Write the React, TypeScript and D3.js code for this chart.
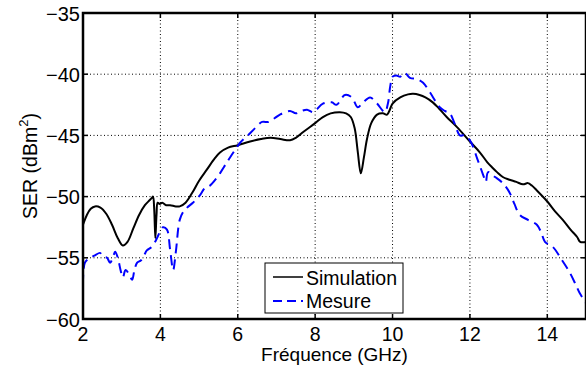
import React from "react";
import * as d3 from "d3";

const xTicks = [2, 4, 6, 8, 10, 12, 14];
const yTicks = [-35, -40, -45, -50, -55, -60];
const seriesNames = ["Simulation", "Mesure"];

const simulation: [number, number][] = [
  [2.0, -52.3], [2.1, -51.5], [2.2, -51.0], [2.31, -50.8], [2.45, -50.9], [2.6, -51.4], [2.75, -52.3],
  [2.9, -53.4], [3.03, -54.0], [3.15, -53.7], [3.3, -52.6], [3.45, -51.5], [3.6, -50.7], [3.72, -50.3],
  [3.78, -50.1], [3.81, -50.0], [3.84, -51.0], [3.87, -53.4], [3.9, -51.5], [3.93, -50.5], [3.98, -50.6],
  [4.05, -50.5], [4.15, -50.7], [4.25, -50.7], [4.4, -50.8], [4.5, -50.8], [4.65, -50.5], [4.84, -49.6],
  [5.0, -48.7], [5.2, -47.8], [5.4, -46.9], [5.54, -46.4], [5.75, -46.0], [6.0, -45.8], [6.32, -45.5],
  [6.6, -45.3], [6.85, -45.2], [7.1, -45.3], [7.35, -45.4], [7.5, -45.2], [7.7, -44.7], [8.0, -44.0],
  [8.2, -43.5], [8.4, -43.2], [8.64, -43.1], [8.8, -43.2], [8.92, -43.5], [9.02, -44.4], [9.1, -46.3],
  [9.18, -48.1], [9.26, -46.8], [9.34, -45.3], [9.45, -44.0], [9.6, -43.3], [9.75, -43.2], [9.86, -43.3],
  [9.93, -42.9], [10.0, -42.4], [10.2, -41.9], [10.4, -41.65], [10.53, -41.6], [10.7, -41.7], [10.85, -41.9],
  [11.04, -42.3], [11.2, -42.8], [11.4, -43.5], [11.66, -44.3], [12.0, -45.5], [12.26, -46.4], [12.45, -47.2],
  [12.57, -47.6], [12.7, -48.0], [12.85, -48.4], [13.0, -48.6], [13.2, -48.8], [13.37, -49.0], [13.5, -48.9],
  [13.6, -49.1], [13.73, -49.5], [14.0, -50.4], [14.2, -51.2], [14.4, -51.9], [14.6, -52.7], [14.77, -53.3],
  [14.85, -53.7], [15.0, -53.7],
];

const mesure: [number, number][] = [
  [2.0, -57.2], [2.05, -55.4], [2.18, -55.0], [2.31, -54.8], [2.44, -54.6], [2.52, -54.9], [2.62, -55.0],
  [2.7, -55.4], [2.78, -54.9], [2.83, -54.5], [2.9, -55.0], [2.97, -56.0], [3.03, -56.6], [3.1, -56.0],
  [3.2, -56.4], [3.27, -56.8], [3.33, -56.0], [3.4, -55.4], [3.5, -55.2], [3.58, -54.8], [3.65, -54.4],
  [3.78, -54.1], [3.88, -53.6], [3.94, -53.2], [4.0, -52.8], [4.07, -52.5], [4.17, -52.7], [4.25, -54.3],
  [4.33, -56.0], [4.4, -54.5], [4.5, -51.9], [4.6, -51.2], [4.69, -50.9], [4.84, -50.5], [5.02, -49.9],
  [5.15, -49.3], [5.28, -49.1], [5.4, -48.7], [5.54, -48.1], [5.7, -47.3], [5.8, -46.8], [5.95, -46.1],
  [6.06, -45.6], [6.26, -45.0], [6.45, -44.4], [6.63, -43.9], [6.8, -43.9], [6.95, -43.6], [7.09, -43.3],
  [7.35, -43.0], [7.5, -43.2], [7.65, -43.0], [7.79, -42.9], [7.95, -43.1], [8.2, -42.4], [8.43, -42.3],
  [8.55, -42.5], [8.77, -41.7], [8.95, -41.9], [9.1, -42.7], [9.24, -42.3], [9.42, -41.9], [9.6, -42.4],
  [9.8, -43.1], [9.88, -42.4], [9.94, -41.0], [10.0, -40.2], [10.1, -40.1], [10.2, -40.2], [10.32, -39.9],
  [10.45, -40.3], [10.63, -40.4], [10.79, -40.7], [10.97, -41.5], [11.22, -42.7], [11.35, -43.0],
  [11.48, -43.2], [11.6, -44.0], [11.74, -45.0], [11.85, -45.0], [12.0, -45.4], [12.2, -47.0],
  [12.35, -48.3], [12.41, -48.8], [12.47, -48.0], [12.65, -48.4], [12.85, -48.9], [13.03, -49.7],
  [13.15, -50.6], [13.29, -51.5], [13.5, -51.9], [13.73, -52.3], [13.85, -53.0], [13.94, -53.7],
  [14.14, -54.1], [14.38, -55.2], [14.58, -56.2], [14.75, -57.3], [14.84, -57.9], [15.0, -58.7],
];

const W = 586;
const H = 365;
const L = 83, R = 586, T = 13, B = 319;
const FONT = "'Liberation Sans', Arial, Helvetica, sans-serif";

export default function App() {
  const x = d3.scaleLinear().domain([2, 15]).range([L, R]);
  const y = d3.scaleLinear().domain([-60, -35]).range([B, T]);
  const line = d3
    .line<[number, number]>()
    .x((d) => x(d[0]))
    .y((d) => y(d[1]))
    .curve(d3.curveCatmullRom.alpha(0.5));
  const tick = 5;
  return (
    <div style={{ position: "absolute", left: 0, top: 0 }}>
      <svg width={W} height={H} style={{ display: "block", background: "#fff" }}>
        <defs>
          <clipPath id="plotclip">
            <rect x={L} y={T} width={R - L} height={B - T} />
          </clipPath>
        </defs>
        <rect x={0} y={0} width={W} height={H} fill="#fff" />
        {xTicks.map((t) => (
          <line key={"gx" + t} x1={x(t)} x2={x(t)} y1={T} y2={B} stroke="#000" strokeWidth={1} strokeDasharray="1,2.5" />
        ))}
        {yTicks.map((t) => (
          <line key={"gy" + t} x1={L} x2={R} y1={y(t)} y2={y(t)} stroke="#000" strokeWidth={1} strokeDasharray="1,2.5" />
        ))}
        {xTicks.map((t) => (
          <g key={"tx" + t}>
            <line x1={x(t)} x2={x(t)} y1={B} y2={B - tick} stroke="#000" strokeWidth={1.5} />
            <line x1={x(t)} x2={x(t)} y1={T} y2={T + tick} stroke="#000" strokeWidth={1.5} />
            <text x={x(t)} y={340.5} textAnchor="middle" fontFamily={FONT} fontSize={19.5} fill="#000">
              {t}
            </text>
          </g>
        ))}
        {yTicks.map((t) => (
          <g key={"ty" + t}>
            <line x1={L} x2={L + tick} y1={y(t)} y2={y(t)} stroke="#000" strokeWidth={1.5} />
            <line x1={R} x2={R - tick} y1={y(t)} y2={y(t)} stroke="#000" strokeWidth={1.5} />
            <text x={80} y={y(t) + 7.5} textAnchor="end" fontFamily={FONT} fontSize={20} fill="#000">
              {"\u2212" + Math.abs(t)}
            </text>
          </g>
        ))}
        <g clipPath="url(#plotclip)">
          <path d={line(simulation) || ""} fill="none" stroke="#000" strokeWidth={2} strokeLinejoin="round" />
          <path d={line(mesure) || ""} fill="none" stroke="#0000ff" strokeWidth={2} strokeDasharray="10,6" />
        </g>
        <rect x={L} y={T} width={R - L} height={B - T} fill="none" stroke="#000" strokeWidth={2.5} />
        <rect x={265} y={263} width={138} height={50} fill="#fff" stroke="#000" strokeWidth={1} />
        <line x1={273} x2={303} y1={277} y2={277} stroke="#000" strokeWidth={1.5} />
        <line x1={273} x2={303} y1={301} y2={301} stroke="#0000ff" strokeWidth={2} strokeDasharray="9,5" />
        <text x={306} y={285} fontFamily={FONT} fontSize={19.5} fill="#000">{seriesNames[0]}</text>
        <text x={306} y={307.5} fontFamily={FONT} fontSize={19.5} fill="#000">{seriesNames[1]}</text>
        <text x={(L + R) / 2} y={361} textAnchor="middle" fontFamily={FONT} fontSize={19} fill="#000">
          Fréquence (GHz)
        </text>
        <text transform={`translate(37,${(T + B) / 2}) rotate(-90)`} textAnchor="middle" fontFamily={FONT} fontSize={19.5} fill="#000">
          SER (dBm<tspan dy={-9} fontSize={13}>2</tspan><tspan dy={9}>)</tspan>
        </text>
      </svg>
    </div>
  );
}
